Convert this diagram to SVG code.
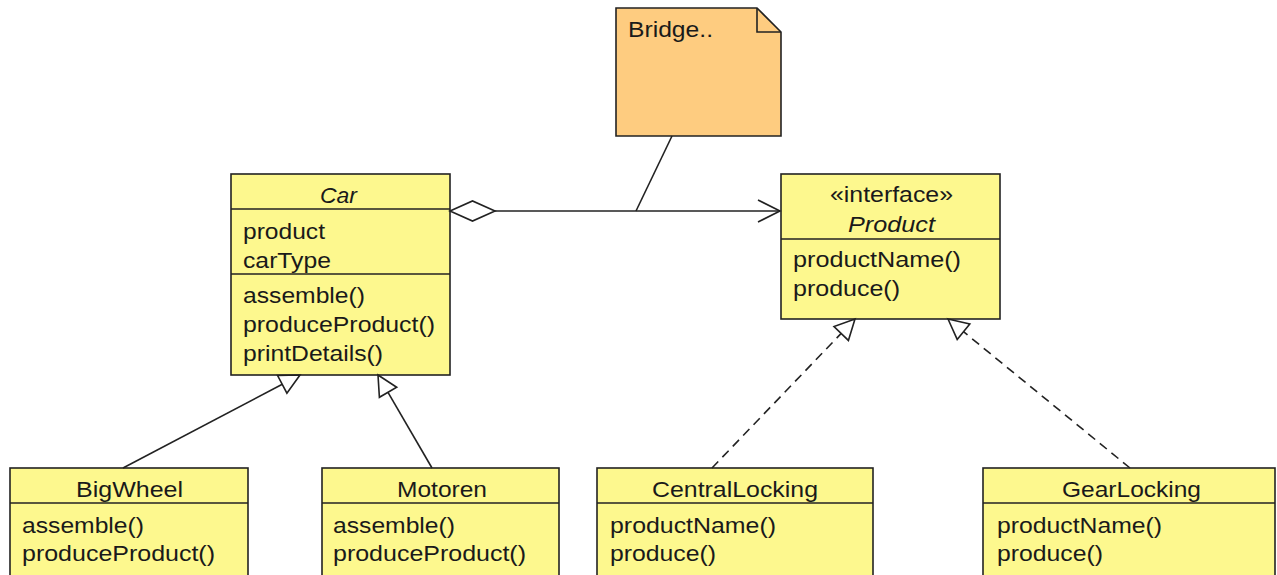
<svg xmlns="http://www.w3.org/2000/svg" width="1277" height="575" viewBox="0 0 1277 575">
<style>
.box{fill:#FDF88E;stroke:#222;stroke-width:1.6}
.note{fill:#FECC80;stroke:#222;stroke-width:1.6}
.div{stroke:#222;stroke-width:1.6}
.t{font-family:"Liberation Sans",Arial,sans-serif;font-size:22px;fill:#1a1a1a}
.i{font-style:italic}
.ln{fill:none;stroke:#222;stroke-width:1.6}
.dash{stroke-dasharray:9 6}
.hollow{fill:#fff;stroke:#222;stroke-width:1.6;stroke-linejoin:miter}
</style>
<rect width="1277" height="575" fill="#fff"/>

<g id="note-bridge">
<path class="note" d="M616,8 H757 L781,32 V136 H616 Z"/>
<path class="ln" d="M757,8 V32 H781"/>
<text class="t" x="628" y="37" textLength="85" lengthAdjust="spacingAndGlyphs">Bridge..</text>
</g>

<g id="class-car">
<rect class="box" x="231" y="174" width="219" height="201"/>
<line class="div" x1="231" y1="209" x2="450" y2="209"/>
<line class="div" x1="231" y1="274" x2="450" y2="274"/>
<text class="t i" x="320" y="203" textLength="37" lengthAdjust="spacingAndGlyphs">Car</text>
<text class="t" x="243" y="239" textLength="82" lengthAdjust="spacingAndGlyphs">product</text>
<text class="t" x="243" y="268" textLength="88" lengthAdjust="spacingAndGlyphs">carType</text>
<text class="t" x="243" y="303" textLength="122" lengthAdjust="spacingAndGlyphs">assemble()</text>
<text class="t" x="243" y="332" textLength="192" lengthAdjust="spacingAndGlyphs">produceProduct()</text>
<text class="t" x="243" y="361" textLength="140" lengthAdjust="spacingAndGlyphs">printDetails()</text>
</g>

<g id="interface-product">
<rect class="box" x="781" y="174" width="219" height="145"/>
<line class="div" x1="781" y1="239" x2="1000" y2="239"/>
<text class="t" x="830" y="202" textLength="123" lengthAdjust="spacingAndGlyphs">«interface»</text>
<text class="t i" x="848" y="232" textLength="87" lengthAdjust="spacingAndGlyphs">Product</text>
<text class="t" x="793" y="267" textLength="168" lengthAdjust="spacingAndGlyphs">productName()</text>
<text class="t" x="793" y="296" textLength="107" lengthAdjust="spacingAndGlyphs">produce()</text>
</g>

<g id="class-bigwheel">
<rect class="box" x="10" y="468" width="238" height="120"/>
<line class="div" x1="10" y1="503" x2="248" y2="503"/>
<text class="t" x="76" y="497" textLength="107" lengthAdjust="spacingAndGlyphs">BigWheel</text>
<text class="t" x="22" y="533" textLength="122" lengthAdjust="spacingAndGlyphs">assemble()</text>
<text class="t" x="22" y="561" textLength="193" lengthAdjust="spacingAndGlyphs">produceProduct()</text>
</g>

<g id="class-motoren">
<rect class="box" x="322" y="468" width="237" height="120"/>
<line class="div" x1="322" y1="503" x2="559" y2="503"/>
<text class="t" x="397" y="497" textLength="90" lengthAdjust="spacingAndGlyphs">Motoren</text>
<text class="t" x="333" y="533" textLength="122" lengthAdjust="spacingAndGlyphs">assemble()</text>
<text class="t" x="333" y="561" textLength="193" lengthAdjust="spacingAndGlyphs">produceProduct()</text>
</g>

<g id="class-centrallocking">
<rect class="box" x="597" y="468" width="276" height="120"/>
<line class="div" x1="597" y1="503" x2="873" y2="503"/>
<text class="t" x="652" y="497" textLength="166" lengthAdjust="spacingAndGlyphs">CentralLocking</text>
<text class="t" x="610" y="533" textLength="166" lengthAdjust="spacingAndGlyphs">productName()</text>
<text class="t" x="610" y="561" textLength="106" lengthAdjust="spacingAndGlyphs">produce()</text>
</g>

<g id="class-gearlocking">
<rect class="box" x="983" y="468" width="292" height="120"/>
<line class="div" x1="983" y1="503" x2="1275" y2="503"/>
<text class="t" x="1062" y="497" textLength="139" lengthAdjust="spacingAndGlyphs">GearLocking</text>
<text class="t" x="997" y="533" textLength="165" lengthAdjust="spacingAndGlyphs">productName()</text>
<text class="t" x="997" y="561" textLength="106" lengthAdjust="spacingAndGlyphs">produce()</text>
</g>

<g id="connectors">
<line class="ln" x1="672" y1="136" x2="636" y2="211"/>
<line class="ln" x1="495" y1="211" x2="780" y2="211"/>
<polygon class="hollow" points="450,211 472.5,201 495,211 472.5,221"/>
<polyline class="ln" points="758,200 780,211 758,222"/>

<line class="ln" x1="123" y1="468" x2="282.3" y2="384.3"/>
<polygon class="hollow" points="300,375 286.9,393.2 277.6,375.5"/>

<line class="ln" x1="432" y1="468" x2="388" y2="392.3"/>
<polygon class="hollow" points="378,375 396.7,387.3 379.4,397.3"/>

<line class="ln dash" x1="712" y1="468" x2="841.2" y2="333.4"/>
<polygon class="hollow" points="855,319 848.4,340.4 834,326.5"/>

<line class="ln dash" x1="1130" y1="468" x2="963.5" y2="331.7"/>
<polygon class="hollow" points="948,319 969.8,324 957.2,339.4"/>
</g>
</svg>
